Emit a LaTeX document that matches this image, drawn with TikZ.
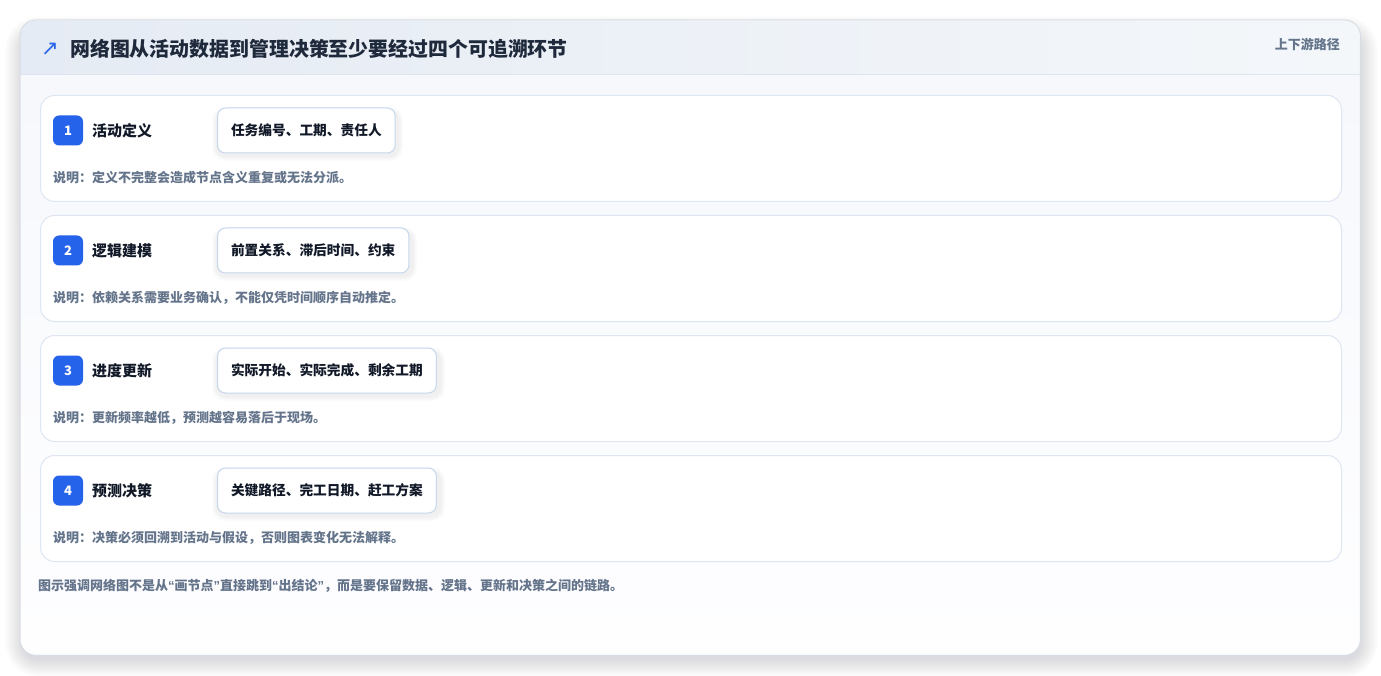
\documentclass[tikz,border=0pt]{standalone}
\usepackage{fontspec}
\setmainfont{Noto Sans CJK SC}
\newfontfamily\symfont{DejaVu Sans}
\newfontfamily\quotefont{Liberation Sans}
\definecolor{cardborder}{HTML}{D7DDE5}
\definecolor{bodytop}{HTML}{F6F8FC}
\definecolor{bodybot}{HTML}{FEFEFF}
\definecolor{headL}{HTML}{E5EBF4}
\definecolor{headR}{HTML}{F4F7FA}
\definecolor{headline}{HTML}{DCE5F0}
\definecolor{rowborder}{HTML}{DDE6F2}
\definecolor{chipborder}{HTML}{C6D7EE}
\definecolor{badgeblue}{HTML}{2563EB}
\definecolor{titlec}{HTML}{1E293B}
\definecolor{labelc}{HTML}{111827}
\definecolor{notec}{HTML}{64748B}
\definecolor{shadowc}{HTML}{475569}
\tikzset{
  rowbox/.style={draw=rowborder, line width=1pt, fill=white, rounded corners=14pt,
    minimum width=1301pt, minimum height=106pt, anchor=north west, inner sep=0pt},
  badge/.style={fill=badgeblue, rounded corners=6pt, minimum width=30pt, minimum height=30pt,
    inner sep=0pt, text=white, font=\bfseries\fontsize{13}{13}\selectfont},
  steplabel/.style={anchor=west, inner sep=0pt, text=labelc, font=\bfseries\fontsize{15}{15}\selectfont},
  chip/.style={draw=chipborder, line width=1pt, fill=white, rounded corners=8pt, minimum height=45pt,
    inner xsep=13.5pt, anchor=west, text=labelc, font=\bfseries\fontsize{13.7}{14}\selectfont},
  notetext/.style={anchor=west, inner sep=0pt, text=notec, font=\bfseries\fontsize{13}{13}\selectfont},
  softshadow/.style={fill=shadowc, fill opacity=0.009},
}
\newcommand{\myopenq}{{\quotefont\bfseries “}}
\newcommand{\mycloseq}{{\quotefont\bfseries ”}}
\begin{document}
\begin{tikzpicture}[x=1pt,y=-1pt]
\useasboundingbox (0,0) rectangle (1381,676);
\fill[white] (0,0) rectangle (1381,676);
% soft shadow of the outer card
\foreach \k in {1,...,18}{
  \fill[softshadow, rounded corners=16pt+\k pt] (20-\k+3,20-\k+14) rectangle (1360+\k,655+\k+4);
}
% outer card
\node[fill=white, rounded corners=16pt, minimum width=1340pt,
  minimum height=635pt, anchor=north west, inner sep=0pt] (card) at (20,20) {};
\begin{scope}
  \clip[rounded corners=16pt] (20.5,20.5) rectangle (1359.5,654.5);
  \shade[top color=bodytop, bottom color=bodybot] (20,75) rectangle (1360,655);
  \shade[left color=headL, right color=headR] (20,20) rectangle (1360,75);
\end{scope}
\draw[headline, line width=1pt] (20.5,75) -- (1359.5,75);
\draw[cardborder, line width=1pt, rounded corners=16pt] (card.north west) rectangle (card.south east);
\node[anchor=west, inner sep=0pt, text=badgeblue, font=\symfont\fontsize{21}{21}\selectfont] (icon) at (41,49) {↗};
\node[anchor=west, inner sep=0pt, text=titlec, font=\bfseries\fontsize{19.9}{20}\selectfont] (title) at (70,49)
  {网络图从活动数据到管理决策至少要经过四个可追溯环节};
\node[anchor=east, inner sep=0pt, text=notec, font=\bfseries\fontsize{13}{13}\selectfont] (tag) at (1340,44) {上下游路径};
% rows
\foreach \i/\w/\lab/\chiptext/\note in {
  0/181/活动定义/任务编号、工期、责任人/说明：定义不完整会造成节点含义重复或无法分派。,
  1/195/逻辑建模/前置关系、滞后时间、约束/说明：依赖关系需要业务确认，不能仅凭时间顺序自动推定。,
  2/223/进度更新/实际开始、实际完成、剩余工期/说明：更新频率越低，预测越容易落后于现场。,
  3/223/预测决策/关键路径、完工日期、赶工方案/说明：决策必须回溯到活动与假设，否则图表变化无法解释。}
{
  \pgfmathsetmacro{\yy}{95+120*\i}
  \pgfmathtruncatemacro{\num}{\i+1}
  \node[rowbox] (row\num) at (40,\yy) {};
  \foreach \s in {1,...,5}{
    \fill[shadowc, fill opacity=0.016, rounded corners=8pt+\s pt]
      (217-\s,\yy+13-\s+4) rectangle (217+\s+\w,\yy+58+\s+3);
  }
  \node[badge] (badge\num) at (68,\yy+35.5) {\num};
  \node[steplabel] (label\num) at (92,\yy+36) {\lab};
  \node[chip] (chip\num) at (217,\yy+35.5) {\chiptext};
  \node[notetext] (note\num) at (53,\yy+83) {\note};
}
\node[anchor=west, inner sep=0pt, text=notec, font=\bfseries\fontsize{13}{13}\selectfont] (footer) at (38,586)
  {图示强调网络图不是从\myopenq 画节点\mycloseq 直接跳到\myopenq 出结论\mycloseq ，而是要保留数据、逻辑、更新和决策之间的链路。};
\end{tikzpicture}
\end{document}
